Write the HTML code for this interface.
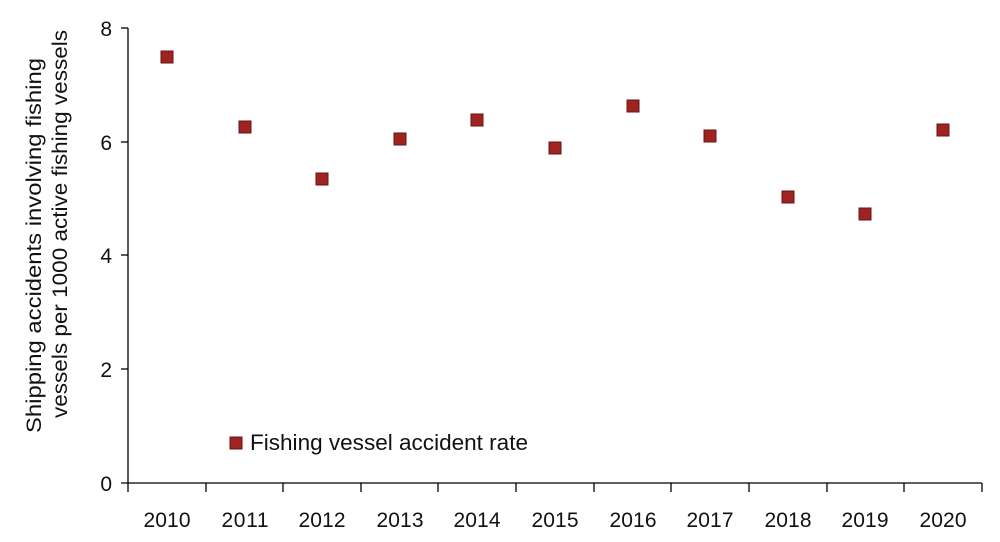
<!DOCTYPE html>
<html><head><style>body{margin:0;background:#fff}svg{display:block}text{font-family:"Liberation Sans",sans-serif;fill:#111}</style></head><body>
<svg width="1000" height="542" viewBox="0 0 1000 542">
<g stroke="#000" stroke-width="1.3" fill="none">
<line x1="128" y1="28" x2="128" y2="483"/>
<line x1="121" y1="483" x2="982" y2="483"/>
<line x1="121" y1="28" x2="128" y2="28"/>
<line x1="121" y1="142" x2="128" y2="142"/>
<line x1="121" y1="255" x2="128" y2="255"/>
<line x1="121" y1="369" x2="128" y2="369"/>
<line x1="128" y1="483" x2="128" y2="492"/><line x1="206" y1="483" x2="206" y2="492"/><line x1="283" y1="483" x2="283" y2="492"/><line x1="361" y1="483" x2="361" y2="492"/><line x1="438" y1="483" x2="438" y2="492"/><line x1="516" y1="483" x2="516" y2="492"/><line x1="594" y1="483" x2="594" y2="492"/><line x1="671" y1="483" x2="671" y2="492"/><line x1="749" y1="483" x2="749" y2="492"/><line x1="827" y1="483" x2="827" y2="492"/><line x1="904" y1="483" x2="904" y2="492"/><line x1="982" y1="483" x2="982" y2="492"/>
</g>
<g font-size="21" text-anchor="end"><text x="112" y="36">8</text><text x="112" y="150">6</text><text x="112" y="263">4</text><text x="112" y="377">2</text><text x="112" y="491">0</text></g>
<g font-size="21" text-anchor="middle">
<text x="167" y="527" textLength="47">2010</text><text x="245" y="527" textLength="47">2011</text><text x="322" y="527" textLength="47">2012</text><text x="400" y="527" textLength="47">2013</text><text x="477" y="527" textLength="47">2014</text><text x="555" y="527" textLength="47">2015</text><text x="633" y="527" textLength="47">2016</text><text x="710" y="527" textLength="47">2017</text><text x="788" y="527" textLength="47">2018</text><text x="865" y="527" textLength="47">2019</text><text x="943" y="527" textLength="47">2020</text>
</g>
<g font-size="21" transform="rotate(-90)">
<text x="-433" y="41" textLength="375" lengthAdjust="spacingAndGlyphs">Shipping accidents involving fishing</text>
<text x="-418" y="67" textLength="388" lengthAdjust="spacingAndGlyphs">vessels per 1000 active fishing vessels</text>
</g>
<g fill="#9e2322" stroke="#6b1312" stroke-width="1">
<rect x="161" y="51" width="12" height="12"/>
<rect x="239" y="121" width="12" height="12"/>
<rect x="316" y="173" width="12" height="12"/>
<rect x="394" y="133" width="12" height="12"/>
<rect x="471" y="114" width="12" height="12"/>
<rect x="549" y="142" width="12" height="12"/>
<rect x="627" y="100" width="12" height="12"/>
<rect x="704" y="130" width="12" height="12"/>
<rect x="782" y="191" width="12" height="12"/>
<rect x="859" y="208" width="12" height="12"/>
<rect x="937" y="124" width="12" height="12"/>
<rect x="230" y="437" width="12" height="12"/>
</g>
<text x="250" y="450" font-size="22" textLength="278" lengthAdjust="spacingAndGlyphs">Fishing vessel accident rate</text>
</svg>
</body></html>
